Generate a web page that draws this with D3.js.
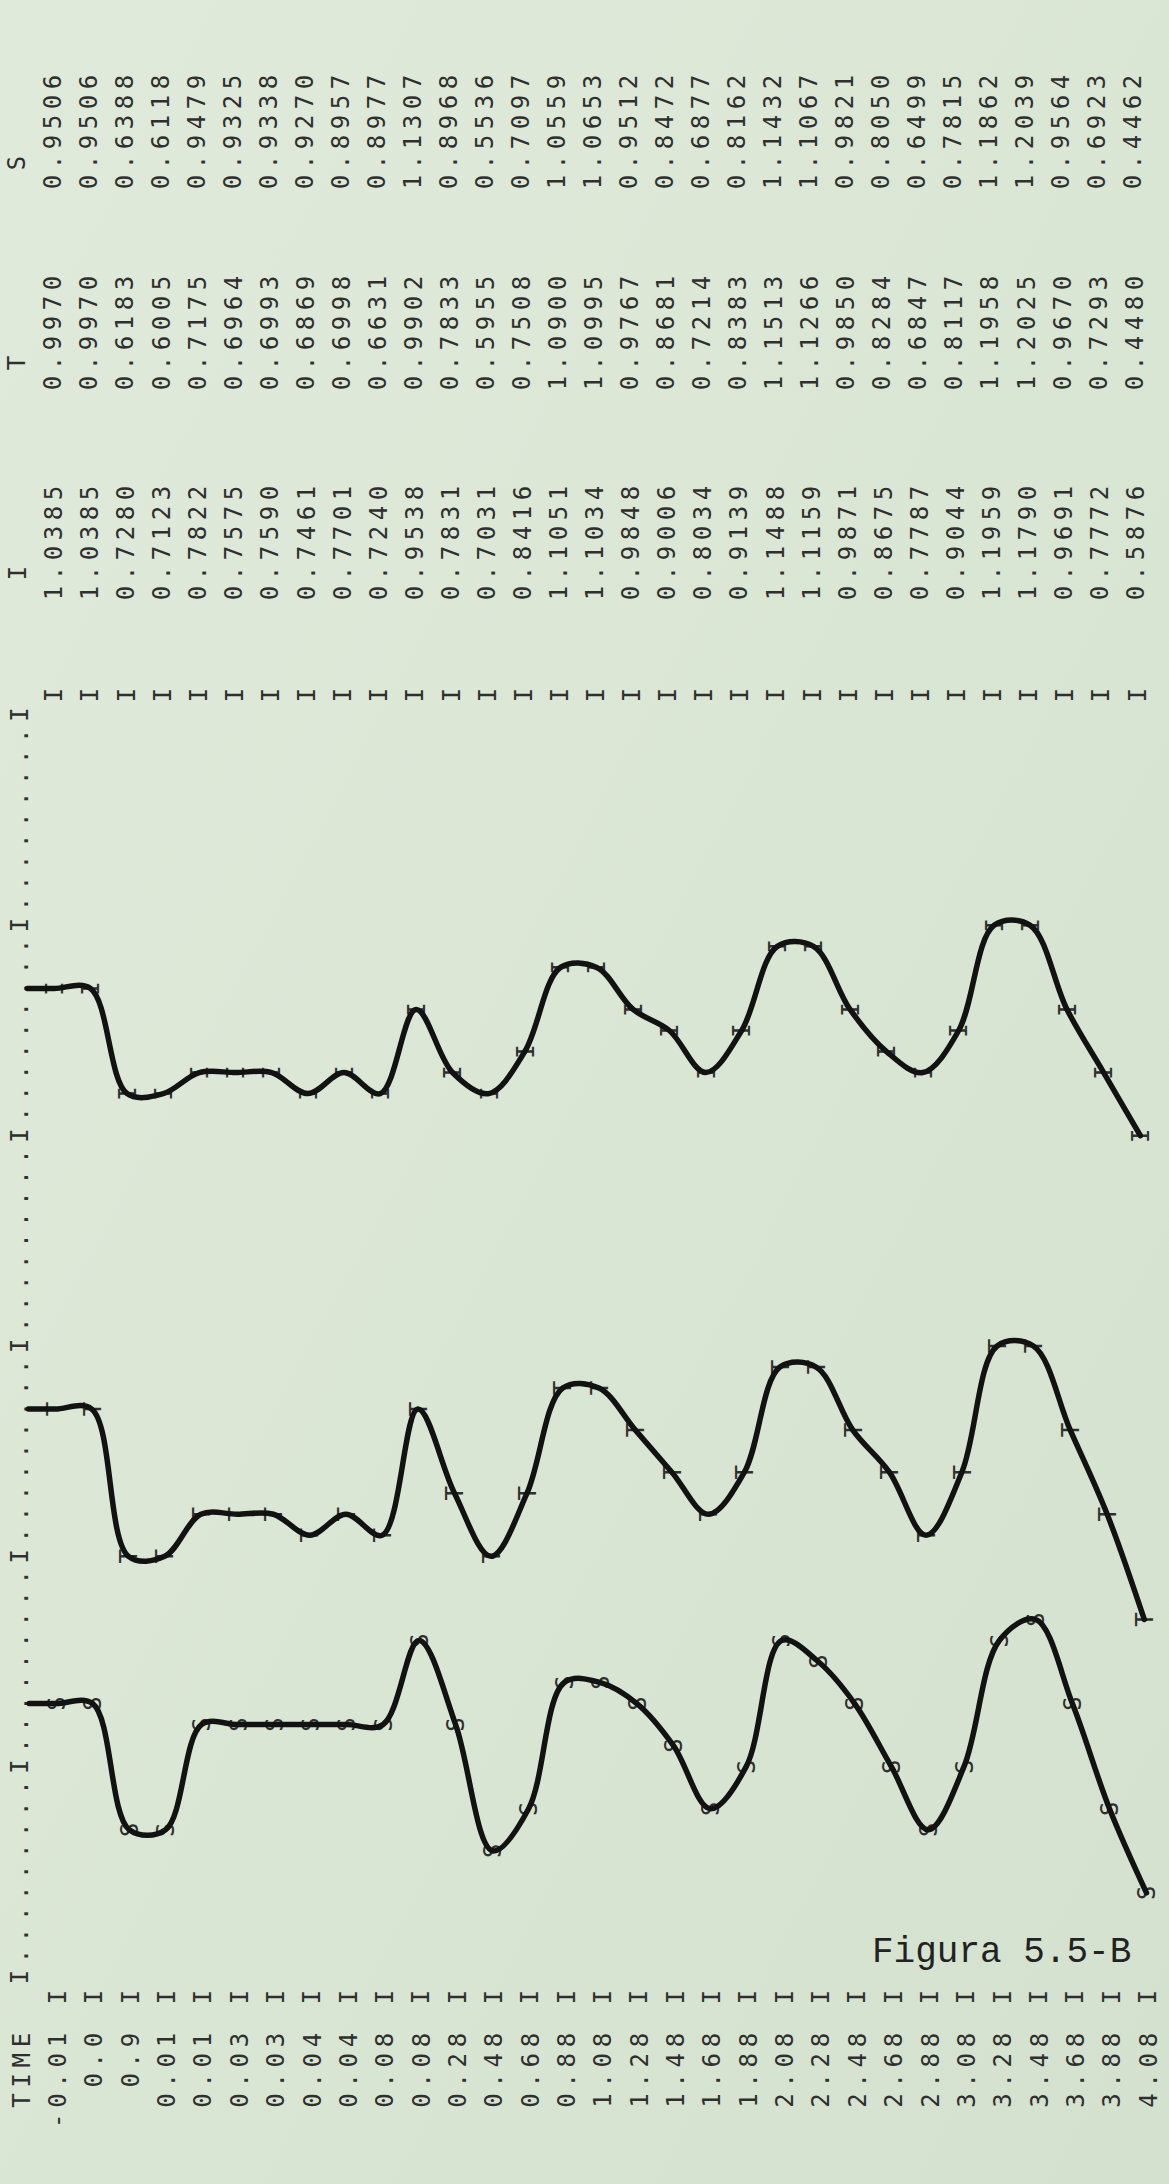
<!DOCTYPE html>
<html>
<head>
<meta charset="utf-8">
<script src="https://cdn.jsdelivr.net/npm/d3@7"></script>
<style>
  html, body { margin: 0; padding: 0; background: #dbe6d3; overflow: hidden; }
  svg { display: block; }
</style>
</head>
<body>
<script>
// ---------------- data ----------------
const timeLabels = ["-0.01","0.0","0.9","0.01","0.01","0.03","0.03","0.04","0.04","0.08",
  "0.08","0.28","0.48","0.68","0.88","1.08","1.28","1.48","1.68","1.88",
  "2.08","2.28","2.48","2.68","2.88","3.08","3.28","3.48","3.68","3.88","4.08"];

const valuesI = [1.0385,1.0385,0.7280,0.7123,0.7822,0.7575,0.7590,0.7461,0.7701,0.7240,
  0.9538,0.7831,0.7031,0.8416,1.1051,1.1034,0.9848,0.9006,0.8034,0.9139,
  1.1488,1.1159,0.9871,0.8675,0.7787,0.9044,1.1959,1.1790,0.9691,0.7772,0.5876];

const valuesT = [0.9970,0.9970,0.6183,0.6005,0.7175,0.6964,0.6993,0.6869,0.6998,0.6631,
  0.9902,0.7833,0.5955,0.7508,1.0900,1.0995,0.9767,0.8681,0.7214,0.8383,
  1.1513,1.1266,0.9850,0.8284,0.6847,0.8117,1.1958,1.2025,0.9670,0.7293,0.4480];

const valuesS = [0.9506,0.9506,0.6388,0.6118,0.9479,0.9325,0.9338,0.9270,0.8957,0.8977,
  1.1307,0.8968,0.5536,0.7097,1.0559,1.0653,0.9512,0.8472,0.6877,0.8162,
  1.1432,1.1067,0.9821,0.8050,0.6499,0.7815,1.1862,1.2039,0.9564,0.6923,0.4462];

const seriesNames  = ["I", "T", "S"];
const seriesLow    = [-1.8, -0.6, 0.2];   // value at printer position 0
const seriesHigh   = [ 1.8,  3.0, 3.8];   // value at printer position 60
const axisTitle    = "TIME";
const figureTitle  = "Figura 5.5-B";

// ---------------- layout ----------------
const W = 1169, H = 2184;
const FS = 24, ADV = FS * 0.602, CAP = FS * 0.729;
const FONT = "'DejaVu Sans Mono', monospace";
const INK = "#2f2f2f";

const svg = d3.select("body").append("svg").attr("width", W).attr("height", H);

const defs = svg.append("defs");
const grad = defs.append("linearGradient").attr("id", "paper")
  .attr("x1", 0).attr("y1", 0).attr("x2", 1).attr("y2", 1);
grad.append("stop").attr("offset", "0%").attr("stop-color", "#e0eadb");
grad.append("stop").attr("offset", "55%").attr("stop-color", "#dae6d4");
grad.append("stop").attr("offset", "100%").attr("stop-color", "#d4e1cf");
svg.append("rect").attr("width", W).attr("height", H).attr("fill", "url(#paper)");

// printed-line (column) scales: slightly wider at the bottom of the photo
const nCols = timeLabels.length;
const colTop = d3.scaleLinear().domain([0, nCols]).range([16, 1132]);
const colBot = d3.scaleLinear().domain([0, nCols]).range([21, 1148]);
const mix = d3.scaleLinear().domain([100, 2080]).range([0, 1]);
const colX = (k, y) => colTop(k) + (colBot(k) - colTop(k)) * mix(y);

// printer position (character slot) along the value axis
const posY = d3.scaleLinear().domain([0, 60]).range([1977, 715]);

const fmt = d3.format(".4f");

const gText = svg.append("g")
  .attr("font-family", FONT).attr("font-size", FS).attr("fill", INK);

// rotated printer text: first character centred at (xc, yFirst), reading upward
function vtext(str, xc, yFirst, pitch) {
  gText.append("text")
    .attr("transform", `translate(${(xc + CAP / 2).toFixed(2)},${(yFirst + ADV / 2).toFixed(2)}) rotate(-90)`)
    .attr("letter-spacing", (pitch - ADV).toFixed(2))
    .text(str);
}

// ---- column 0: header line (TIME, value axis, column titles) ----
const axisStr = d3.range(0, 61).map(p => (p % 10 === 0 ? "I" : ".")).join("");
vtext(axisStr, colX(0, 1350), posY(0), (posY(0) - posY(60)) / 60);

const titlePitch = 20.2;
vtext(axisTitle, colX(0, 2070), 2040 + (axisTitle.length - 1) * titlePitch, titlePitch);

const headerY = [573, 363, 163];
const valueFirstY = [593, 383, 182];
const valuePitch = 20.0;
const allValues = [valuesI, valuesT, valuesS];

seriesNames.forEach((nm, i) => {
  vtext(nm, colX(0, headerY[i]), headerY[i], valuePitch);
});

// ---- columns 1..31 ----
timeLabels.forEach((lab, j) => {
  const k = j + 1;
  vtext(lab, colX(k, 2070), 2040 + (lab.length - 1) * titlePitch, titlePitch);
  vtext("I", colX(k, 1997), 1997, valuePitch);
  vtext("I", colX(k, 695), 695, valuePitch);
  allValues.forEach((vals, i) => {
    vtext(fmt(vals[j]), colX(k, valueFirstY[i] - 50), valueFirstY[i], valuePitch);
  });
});

// ---- plotted traces ----
const gMarks = svg.append("g").attr("font-family", FONT).attr("font-size", FS).attr("fill", INK);
const gCurves = svg.append("g");

const line = d3.line().x(d => d[0]).y(d => d[1]).curve(d3.curveCatmullRom.alpha(0.5));

allValues.forEach((vals, i) => {
  const toPos = d3.scaleLinear().domain([seriesLow[i], seriesHigh[i]]).range([0, 60]);
  const yOf = v => posY(Math.round(toPos(v)));
  const pts = vals.map((v, j) => {
    const y = yOf(v);
    return [colX(j + 1, y), y];
  });
  const y0 = yOf(vals[0]);
  const penPts = [[colX(0.25, y0), y0]].concat(pts);

  pts.forEach(([x, y]) => {
    gMarks.append("text")
      .attr("transform", `translate(${(x + CAP / 2).toFixed(2)},${(y + ADV / 2).toFixed(2)}) rotate(-90)`)
      .text(seriesNames[i]);
  });

  gCurves.append("path")
    .attr("d", line(penPts))
    .attr("fill", "none")
    .attr("stroke", "#121212")
    .attr("stroke-width", 5.5)
    .attr("stroke-linejoin", "round")
    .attr("stroke-linecap", "round");
});

// ---- typed caption ----
svg.append("text")
  .attr("x", 872).attr("y", 1962)
  .attr("font-family", "'Liberation Mono', 'Courier New', monospace")
  .attr("font-size", 36)
  .attr("fill", "#222")
  .text(figureTitle);
</script>
</body>
</html>
